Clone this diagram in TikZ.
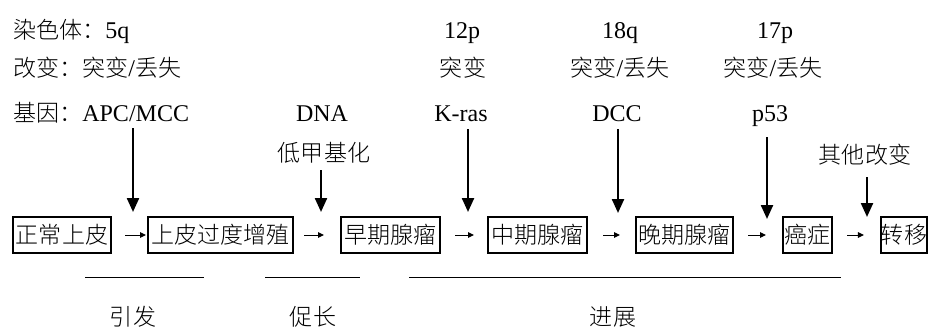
\documentclass[tikz,border=0pt]{standalone}
\usepackage{fontspec}
\setmainfont{Liberation Serif}
\newfontfamily\cjk{Noto Sans CJK SC Light}[Scale=0.96]
\usetikzlibrary{arrows.meta}
\tikzset{
  lbl/.style={font=\fontsize{24}{28}\selectfont, inner sep=0pt, anchor=base},
  lblw/.style={lbl, anchor=base west},
  stage/.style={draw, line width=2pt, inner sep=0pt, minimum height=36pt, font=\fontsize{24}{28}\selectfont\cjk},
  flow/.style={line width=1pt, -{Triangle[length=6pt,width=5.5pt]}},
  hit/.style={line width=2.3pt, -{Triangle[length=14pt,width=12pt]}},
  phase/.style={line width=0.9pt}
}
\begin{document}
\begin{tikzpicture}[x=1pt,y=-1pt]
\useasboundingbox (0,0) rectangle (928,329);
% header rows
\node[lblw] (chr) at (13,38) {{\cjk 染色体：}5q};
\node[lblw] (chg) at (13,77) {{\cjk 改变：突变}/{\cjk 丢失}};
\node[lblw] (gen) at (13,121) {{\cjk 基因：}APC/MCC};
\node[lbl] (dna) at (322,121) {DNA};
\node[lbl] (c12) at (462,38) {12p};
\node[lbl] (m12) at (463,77) {\cjk 突变};
\node[lbl] (kras) at (461,121) {K-ras};
\node[lbl] (c18) at (620,38) {18q};
\node[lbl] (m18) at (620,77) {{\cjk 突变}/{\cjk 丢失}};
\node[lbl] (dcc) at (617,121) {DCC};
\node[lbl] (c17) at (775,38) {17p};
\node[lbl] (m17) at (773,77) {{\cjk 突变}/{\cjk 丢失}};
\node[lbl] (p53) at (770,121) {p53};
\node[lbl] (hypo) at (324,161) {\cjk 低甲基化};
\node[lbl] (other) at (865,163) {\cjk 其他改变};
% stages
\node[stage, minimum width=98pt] (b1) at (62,235) {正常上皮};
\node[stage, minimum width=145pt] (b2) at (220.5,235) {上皮过度增殖};
\node[stage, minimum width=99pt] (b3) at (390.5,235) {早期腺瘤};
\node[stage, minimum width=99pt] (b4) at (537.5,235) {中期腺瘤};
\node[stage, minimum width=97pt] (b5) at (684.5,235) {晚期腺瘤};
\node[stage, minimum width=49pt] (b6) at (807.5,235) {癌症};
\node[stage, minimum width=46pt] (b7) at (904,235) {转移};
% flow arrows
\draw[flow, shorten <=13pt, shorten >=1pt] (b1) -- (b2);
\draw[flow, shorten <=10pt, shorten >=16pt] (b2) -- (b3);
\draw[flow, shorten <=14pt, shorten >=13pt] (b3) -- (b4);
\draw[flow, shorten <=15pt, shorten >=15pt] (b4) -- (b5);
\draw[flow, shorten <=14pt, shorten >=16pt] (b5) -- (b6);
\draw[flow, shorten <=14pt, shorten >=16pt] (b6) -- (b7);
% vertical arrows
\coordinate (a1s) at (133,128); \coordinate (a1e) at (133,212);
\coordinate (a2s) at (321,170); \coordinate (a2e) at (321,212);
\coordinate (a3s) at (468,129); \coordinate (a3e) at (468,212);
\coordinate (a4s) at (618,129); \coordinate (a4e) at (618,213);
\coordinate (a5s) at (767,137); \coordinate (a5e) at (767,219);
\coordinate (a6s) at (867,177); \coordinate (a6e) at (867,217);
\draw[hit] (a1s) -- (a1e);
\draw[hit] (a2s) -- (a2e);
\draw[hit] (a3s) -- (a3e);
\draw[hit] (a4s) -- (a4e);
\draw[hit] (a5s) -- (a5e);
\draw[hit] (a6s) -- (a6e);
% phases
\draw[phase] (85,277) -- (204,277);
\draw[phase] (265,277) -- (360,277);
\draw[phase] (409,277) -- (841,277);
\node[lbl] (init) at (133,325) {\cjk 引发};
\node[lbl] (prom) at (313,325) {\cjk 促长};
\node[lbl] (prog) at (613,325) {\cjk 进展};
\end{tikzpicture}
\end{document}
